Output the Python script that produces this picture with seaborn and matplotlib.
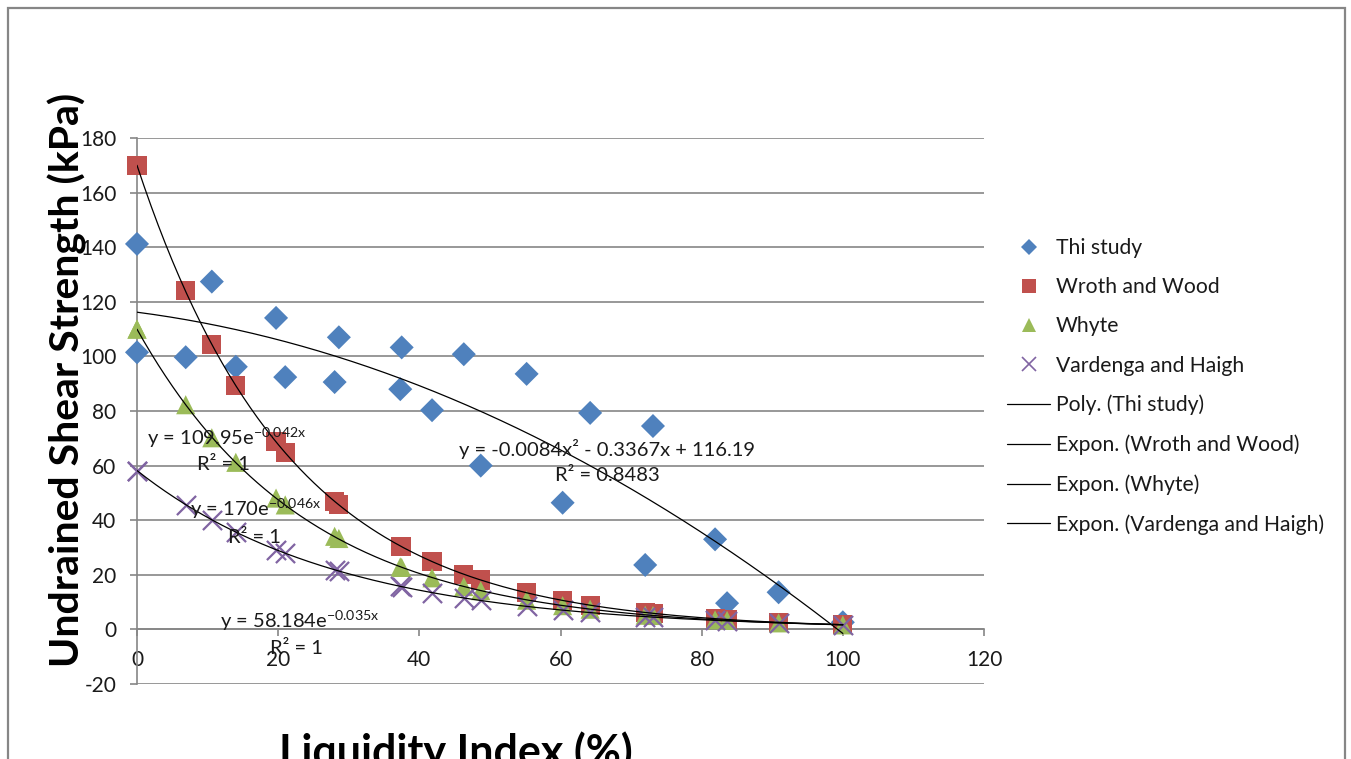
import numpy as np
import pandas as pd
import matplotlib
matplotlib.use("Agg")
import matplotlib.pyplot as plt
from matplotlib.patches import Rectangle
from matplotlib.lines import Line2D
import seaborn as sns

# Liquidity index (%) shared by all four data sets
liquidity_index = [0, 0, 6.9, 10.6, 14.0, 19.7, 21.0, 28.0, 28.6, 37.3, 37.5, 41.8,
                   46.3, 48.7, 55.2, 60.3, 64.2, 72.0, 73.1, 81.9, 83.6, 90.9, 100]

# Undrained shear strength (kPa)
thi_study = [141.2, 101.5, 99.7, 127.4, 96.2, 114.1, 92.4, 90.6, 107.0, 88.0, 103.3, 80.3,
             100.8, 60.0, 93.6, 46.4, 79.3, 23.6, 74.5, 33.0, 9.6, 13.6, 2.6]
wroth_and_wood = [170.0, 170.0, 124.0, 104.3, 89.2, 68.8, 64.7, 46.9, 45.6, 30.5, 30.3, 24.9,
                  20.2, 18.1, 13.4, 10.6, 8.9, 6.2, 5.9, 3.9, 3.6, 2.6, 1.7]
whyte = [110.0, 110.0, 82.3, 70.2, 61.2, 48.1, 45.6, 34.1, 33.3, 22.9, 22.7, 18.9,
         15.7, 14.2, 10.7, 8.7, 7.4, 5.2, 5.1, 3.5, 3.3, 2.4, 1.65]
vardenga_and_haigh = [58.2, 58.2, 45.7, 40.1, 35.7, 29.1, 27.9, 21.8, 21.4, 15.9, 15.7, 13.4,
                      11.5, 10.6, 8.4, 7.0, 6.2, 4.6, 4.5, 3.3, 3.1, 2.4, 1.76]

series_names = ["Thi study", "Wroth and Wood", "Whyte", "Vardenga and Haigh"]
series_values = [thi_study, wroth_and_wood, whyte, vardenga_and_haigh]
series_colors = ["#4F81BD", "#C0504D", "#9BBB59", "#8064A2"]
series_markers = ["D", "s", "^", "x"]

# Trendline coefficients as reported by the fits
poly_coef = [-0.0084, -0.3367, 116.19]          # Thi study, 2nd order polynomial
expon_wroth = (170.0, -0.046)
expon_whyte = (109.95, -0.042)
expon_vardenga = (58.184, -0.035)

x_ticks = [0, 20, 40, 60, 80, 100, 120]
y_ticks = [-20, 0, 20, 40, 60, 80, 100, 120, 140, 160, 180]

sns.set_theme(style="white")
plt.rcParams["font.family"] = ["Lato", "DejaVu Sans"]
plt.rcParams["mathtext.fontset"] = "custom"
plt.rcParams["mathtext.rm"] = "Lato"
plt.rcParams["axes.unicode_minus"] = False

W, H = 1351, 759
fig = plt.figure(figsize=(W / 100, H / 100), dpi=100)
fig.patch.set_facecolor("white")

# outer chart frame
fig.patches.append(Rectangle((8 / W, -0.05), (1345 - 8) / W, 1.05 - 8 / H,
                             transform=fig.transFigure, fill=False,
                             edgecolor="#868686", linewidth=1.6))

ax = fig.add_axes([137 / W, 1 - 684 / H, (984 - 137) / W, (684 - 138) / H])

df = pd.DataFrame({
    "li": np.tile(liquidity_index, len(series_names)),
    "su": np.concatenate(series_values),
    "series": np.repeat(series_names, len(liquidity_index)),
})

sizes = {"D": 150, "s": 190, "^": 190, "x": 190}
for i, (name, color, marker) in enumerate(zip(series_names, series_colors, series_markers)):
    sub = df[df["series"] == name]
    if marker == "x":
        sns.scatterplot(data=sub, x="li", y="su", ax=ax, marker=marker, color=color,
                        s=sizes[marker], linewidth=1.6, zorder=3 + i, legend=False,
                        clip_on=False)
    else:
        sns.scatterplot(data=sub, x="li", y="su", ax=ax, marker=marker, color=color,
                        s=sizes[marker], edgecolor="none", zorder=3 + i, legend=False,
                        clip_on=False)

# trendlines
xs = np.linspace(0, 100, 300)
trend_df = pd.DataFrame({
    "x": np.tile(xs, 4),
    "y": np.concatenate([
        np.polyval(poly_coef, xs),
        expon_wroth[0] * np.exp(expon_wroth[1] * xs),
        expon_whyte[0] * np.exp(expon_whyte[1] * xs),
        expon_vardenga[0] * np.exp(expon_vardenga[1] * xs),
    ]),
    "trend": np.repeat(["poly", "wroth", "whyte", "vardenga"], len(xs)),
})
for t in ["poly", "wroth", "whyte", "vardenga"]:
    sub = trend_df[trend_df["trend"] == t]
    sns.lineplot(data=sub, x="x", y="y", ax=ax, color="black", linewidth=0.9,
                 zorder=10, legend=False, sort=False, estimator=None)

ax.set_xlim(0, 120)
ax.set_ylim(-20, 180)
ax.set_xticks(x_ticks)
ax.set_yticks(y_ticks)
ax.set_xlabel("")
ax.set_ylabel("")

ax.grid(axis="y", color="#868686", linewidth=1.2)
ax.grid(axis="x", visible=False)
ax.set_axisbelow(True)
for side in ["top", "right"]:
    ax.spines[side].set_visible(False)
ax.spines["bottom"].set_position(("data", 0))
ax.spines["left"].set_position(("data", 0))
for side in ["bottom", "left"]:
    ax.spines[side].set_color("#868686")
    ax.spines[side].set_linewidth(1.2)
ax.tick_params(axis="both", which="major", direction="out", length=5, width=1.2,
               color="#868686", labelsize=15, labelcolor="#1a1a1a", pad=10,
               bottom=True, left=True)

# trendline equations
eq_kw = dict(fontsize=14.5, color="#1a1a1a", zorder=12)
ax.text(1.4, 70.3, r"y = 109.95e$^{\mathregular{-0.042x}}$", ha="left", va="center", **eq_kw)
ax.text(8.5, 60.4, "R² = 1", ha="left", va="center", **eq_kw)
ax.text(7.5, 44.3, r"y = 170e$^{\mathregular{-0.046x}}$", ha="left", va="center", **eq_kw)
ax.text(12.9, 33.7, "R² = 1", ha="left", va="center", **eq_kw)
ax.text(11.8, 3.3, r"y = 58.184e$^{\mathregular{-0.035x}}$", ha="left", va="center", **eq_kw)
ax.text(18.8, -7.0, "R² = 1", ha="left", va="center", **eq_kw)
ax.text(66.6, 65.9, "y = -0.0084x² - 0.3367x + 116.19", ha="center", va="center", **eq_kw)
ax.text(66.6, 56.4, "R² = 0.8483", ha="center", va="center", **eq_kw)

# axis titles
fig.text(67 / W, 1 - 380 / H, "Undrained Shear Strength (kPa)", rotation=90,
         ha="center", va="center", fontsize=29.5, fontweight="bold", color="black")
fig.text(456 / W, 1 - 752 / H, "Liquidity Index (%)", ha="center", va="center",
         fontsize=31, fontweight="bold", color="black")

# legend
handles = [Line2D([], [], linestyle="none", marker=m, color=c, markersize=s,
                  markeredgewidth=(1.2 if m == "x" else 0))
           for m, c, s in zip(series_markers, series_colors, [8, 10, 10, 10])]
handles += [Line2D([], [], color="black", linewidth=0.9) for _ in range(4)]
labels = series_names + ["Poly. (Thi study)", "Expon. (Wroth and Wood)",
                         "Expon. (Whyte)", "Expon. (Vardenga and Haigh)"]
fig.legend(handles, labels, loc="upper left", bbox_to_anchor=(1007 / W, 1 - 238 / H),
           frameon=False, fontsize=15.2, handlelength=2.05, handletextpad=0.25,
           labelspacing=0.91, borderpad=0, borderaxespad=0, labelcolor="#1a1a1a")

fig.savefig("out.png", dpi=100, facecolor="white")
